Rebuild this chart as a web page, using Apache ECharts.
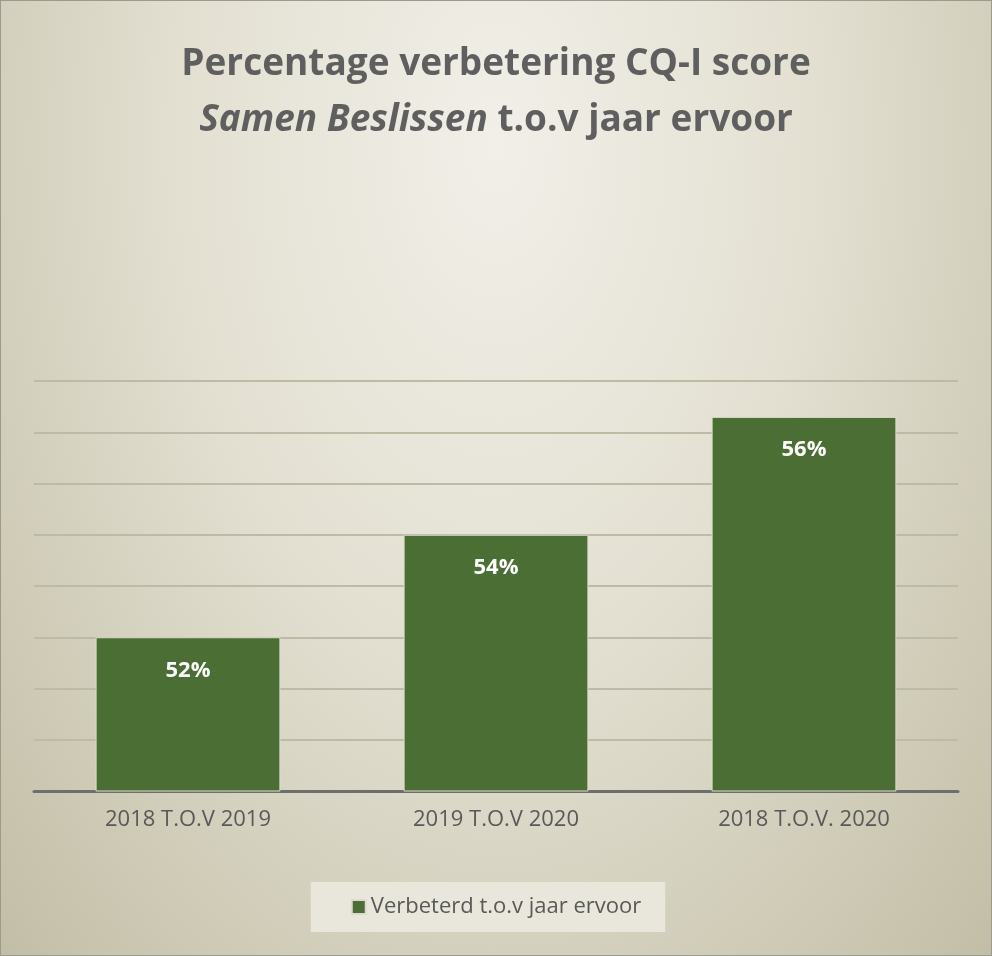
<!DOCTYPE html>
<html><head><meta charset="utf-8">
<script src="https://cdn.jsdelivr.net/npm/echarts@6/dist/echarts.min.js"></script>
<style>html,body{margin:0;padding:0}#c{width:992px;height:956px;box-sizing:border-box;border:1px solid #9a9a90;background:radial-gradient(ellipse at 50% 15%,#f1efe8 0%,#e3e0d2 45%,#c2bea6 100%)}</style>
</head><body><div id="c"></div>
<script>
const categories = ['2018 T.O.V 2019', '2019 T.O.V 2020', '2018 T.O.V. 2020'];
const values = [52, 54, 56.3];
const seriesName = 'Verbeterd t.o.v jaar ervoor';
const chart = echarts.init(document.getElementById('c'));
chart.setOption({
  animation: false,
  title: {
    text: 'Percentage verbetering CQ-I score\n{i|Samen Beslissen} t.o.v jaar ervoor',
    left: 'center', top: 30,
    textStyle: { fontFamily: 'Open Sans', fontSize: 37, fontWeight: 'bold', color: '#5f5f5f', lineHeight: 56,
      rich: { i: { fontFamily: 'Open Sans', fontSize: 37, fontWeight: 'bold', fontStyle: 'italic', color: '#5f5f5f', lineHeight: 56 } } }
  },
  legend: {
    bottom: 23, left: 'center', padding: [14, 24, 14, 40], backgroundColor: 'rgba(235,233,222,0.9)',
    itemWidth: 14, itemHeight: 14, icon: 'rect', itemGap: 8,
    textStyle: { fontFamily: 'Open Sans', fontSize: 22, color: '#595959' }
  },
  grid: { left: 33, right: 33, top: 380, bottom: 164 },
  xAxis: {
    type: 'category', data: categories,
    axisLine: { lineStyle: { color: '#6e6e6e', width: 3 } }, axisTick: { show: false },
    axisLabel: { fontFamily: 'Open Sans', fontSize: 22, color: '#595959', margin: 18 }
  },
  yAxis: {
    type: 'value', min: 49, max: 57, interval: 1,
    axisLabel: { show: false },
    splitLine: { lineStyle: { color: '#bdbaa6', width: 2 } }
  },
  series: [{
    name: seriesName, type: 'bar', data: values, barWidth: '60%',
    itemStyle: { color: '#4a6e34', borderColor: '#dcdccc', borderWidth: 1 },
    label: { show: true, position: 'insideTop', distance: 22, color: '#fff', fontFamily: 'Open Sans', fontWeight: 'bold', fontSize: 22,
      formatter: p => Math.round(p.value) + '%' }
  }]
});
</script></body></html>
